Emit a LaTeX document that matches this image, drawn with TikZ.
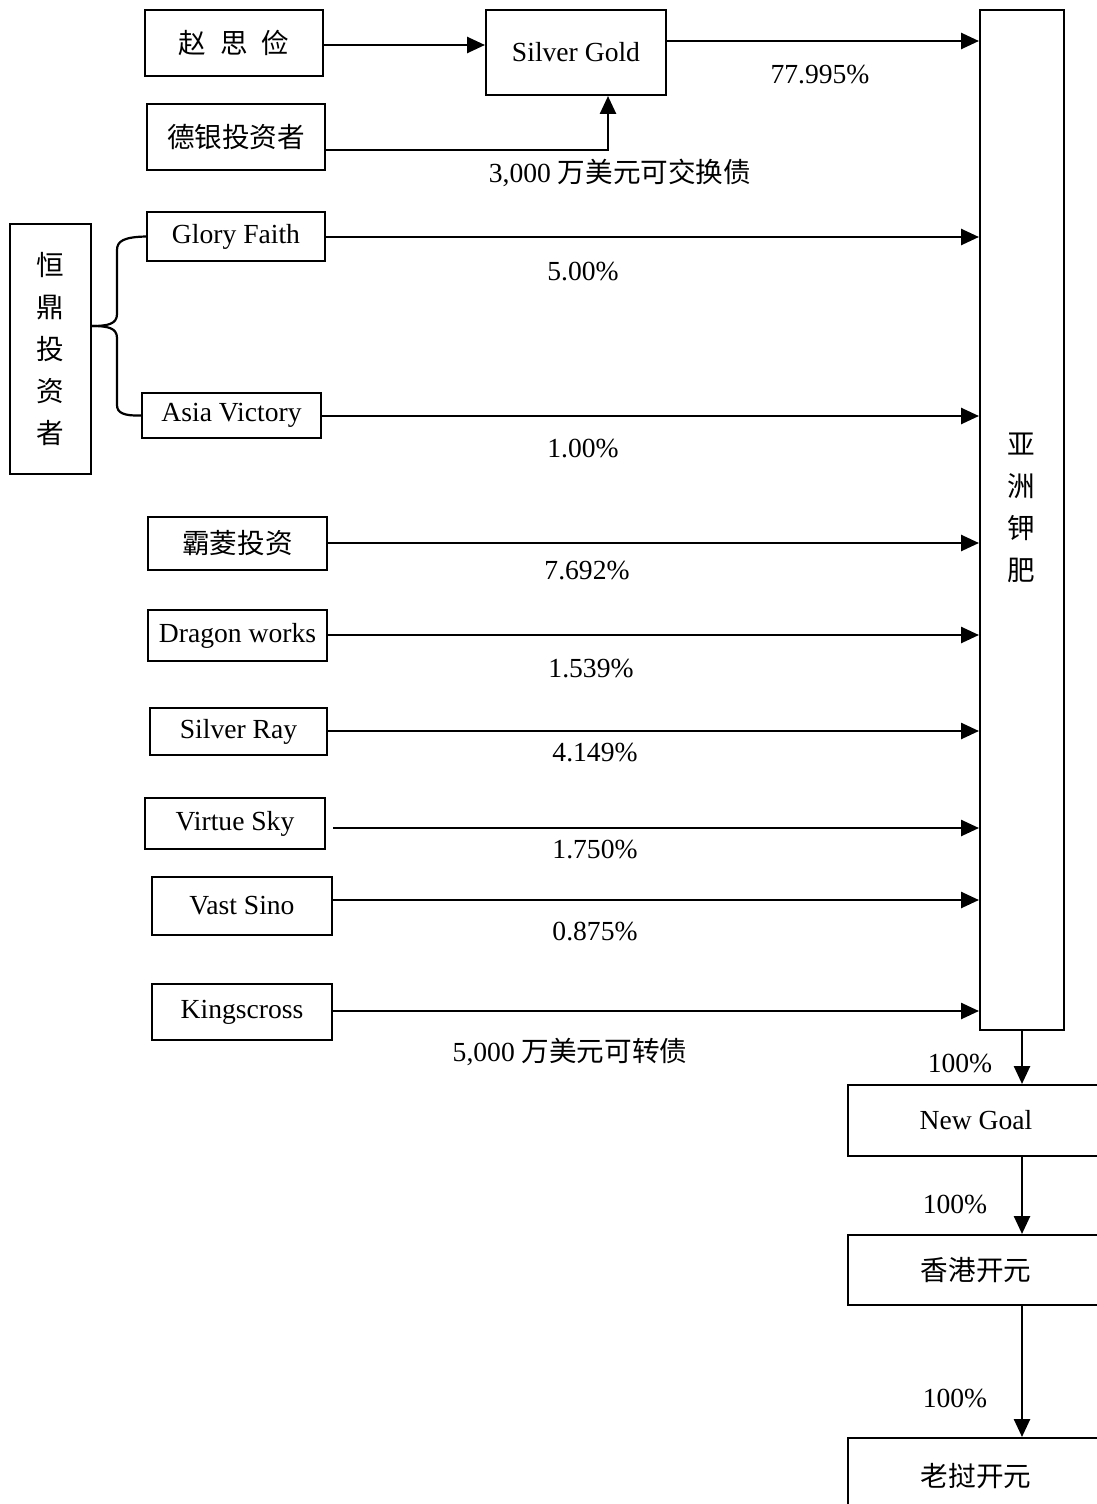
\documentclass[tikz,border=0pt]{standalone}
\usepackage{fontspec}
\setmainfont{Liberation Serif}
\newfontfamily\cjk{Noto Sans CJK SC}
\usetikzlibrary{arrows.meta}
\begin{document}
\begin{tikzpicture}[x=0.5pt,y=-0.5pt,
  every node/.style={font=\fontsize{13.8}{21}\selectfont},
  box/.style={draw,line width=1pt,inner sep=0pt,align=center},
  arr/.style={line width=1.3pt,-{Triangle[length=9pt,width=8pt]}},
  plain/.style={line width=1.1pt},
  lbl/.style={inner sep=0pt}]
\useasboundingbox (0,0) rectangle (1097,1504);
\clip (0,0) rectangle (1097,1504);
% boxes
\node[box,minimum width=89pt,minimum height=33pt] (zsj) at (234,43) {\cjk 赵\hspace{0.5em}思\hspace{0.5em}俭};
\node[box,minimum width=90pt,minimum height=42.5pt] (sg) at (576,52.5) {Silver Gold};
\node[box,minimum width=89pt,minimum height=33pt] (dy) at (236,137) {\cjk 德银投资者};
\node[box,minimum width=40.5pt,minimum height=125pt] (hd) at (50.5,349) {\cjk 恒\\\cjk 鼎\\\cjk 投\\\cjk 资\\\cjk 者};
\node[box,minimum width=89pt,minimum height=24.5pt] (gf) at (236,236.5) {Glory Faith};
\node[box,minimum width=89.5pt,minimum height=22.5pt] (av) at (231.5,415.5) {Asia Victory};
\node[box,minimum width=89.5pt,minimum height=26.5pt] (bl) at (237.5,543.5) {\cjk 霸菱投资};
\node[box,minimum width=89.5pt,minimum height=25.5pt] (dw) at (237.5,635.5) {Dragon works};
\node[box,minimum width=88.5pt,minimum height=23.5pt] (sr) at (238.5,731.5) {Silver Ray};
\node[box,minimum width=90pt,minimum height=25.5pt] (vsk) at (235,823.5) {Virtue Sky};
\node[box,minimum width=90pt,minimum height=29pt] (vsn) at (242,906) {Vast Sino};
\node[box,minimum width=90pt,minimum height=28pt] (kc) at (242,1012) {Kingscross};
\node[box,minimum width=42pt,minimum height=510pt] (yz) at (1022,520) {};
\node[lbl,align=center] (yzt) at (1021,508) {\cjk 亚\\\cjk 洲\\\cjk 钾\\\cjk 肥};
\node[box,minimum width=128pt,minimum height=35.5pt] (ng) at (976,1120.5) {New Goal};
\node[box,minimum width=128pt,minimum height=35pt] (hk) at (976,1270) {\cjk 香港开元};
\node[box,minimum width=128pt,minimum height=38pt] (lw) at (976,1476) {\cjk 老挝开元};
% connectors
\draw[arr] (zsj.east |- 0,45) -- (sg.west |- 0,45);
\draw[arr] (sg.east |- 0,41) -- (yz.west |- 0,41);
\draw[arr] (dy.east |- 0,150) -| (sg.south -| 608,0);
\draw[plain] (hd.east |- 0,326) .. controls (108,326) and (117,324) .. (117,314) -- (117,250)
  .. controls (117,241) and (124,237) .. (gf.west);
\draw[plain] (hd.east |- 0,326) .. controls (108,326) and (117,328) .. (117,338) -- (117,405)
  .. controls (117,413) and (124,416) .. (av.west);
\draw[arr] (gf.east |- 0,237) -- (yz.west |- 0,237);
\draw[arr] (av.east |- 0,416) -- (yz.west |- 0,416);
\draw[arr] (bl.east |- 0,543) -- (yz.west |- 0,543);
\draw[arr] (dw.east |- 0,635) -- (yz.west |- 0,635);
\draw[arr] (sr.east |- 0,731) -- (yz.west |- 0,731);
\draw[arr] ([xshift=3.5pt]vsk.east |- 0,828) -- (yz.west |- 0,828);
\draw[arr] (vsn.east |- 0,900) -- (yz.west |- 0,900);
\draw[arr] (kc.east |- 0,1011) -- (yz.west |- 0,1011);
\draw[arr] (yz.south) -- (ng.north -| yz.south);
\draw[arr] (ng.south -| yz.south) -- (hk.north -| yz.south);
\draw[arr] (hk.south -| yz.south) -- (lw.north -| yz.south);
% labels
\node[lbl] (l1) at (820,75) {77.995\%};
\node[lbl] (l2) at (620,173) {3,000 {\cjk 万美元可交换债}};
\node[lbl] (l3) at (583,272) {5.00\%};
\node[lbl] (l4) at (583,449) {1.00\%};
\node[lbl] (l5) at (587,571) {7.692\%};
\node[lbl] (l6) at (591,669) {1.539\%};
\node[lbl] (l7) at (595,753) {4.149\%};
\node[lbl] (l8) at (595,850) {1.750\%};
\node[lbl] (l9) at (595,932) {0.875\%};
\node[lbl] (l10) at (570,1052) {5,000 {\cjk 万美元可转债}};
\node[lbl] (l11) at (960,1063) {100\%};
\node[lbl] (l12) at (955,1204) {100\%};
\node[lbl] (l13) at (955,1398) {100\%};
\end{tikzpicture}
\end{document}
